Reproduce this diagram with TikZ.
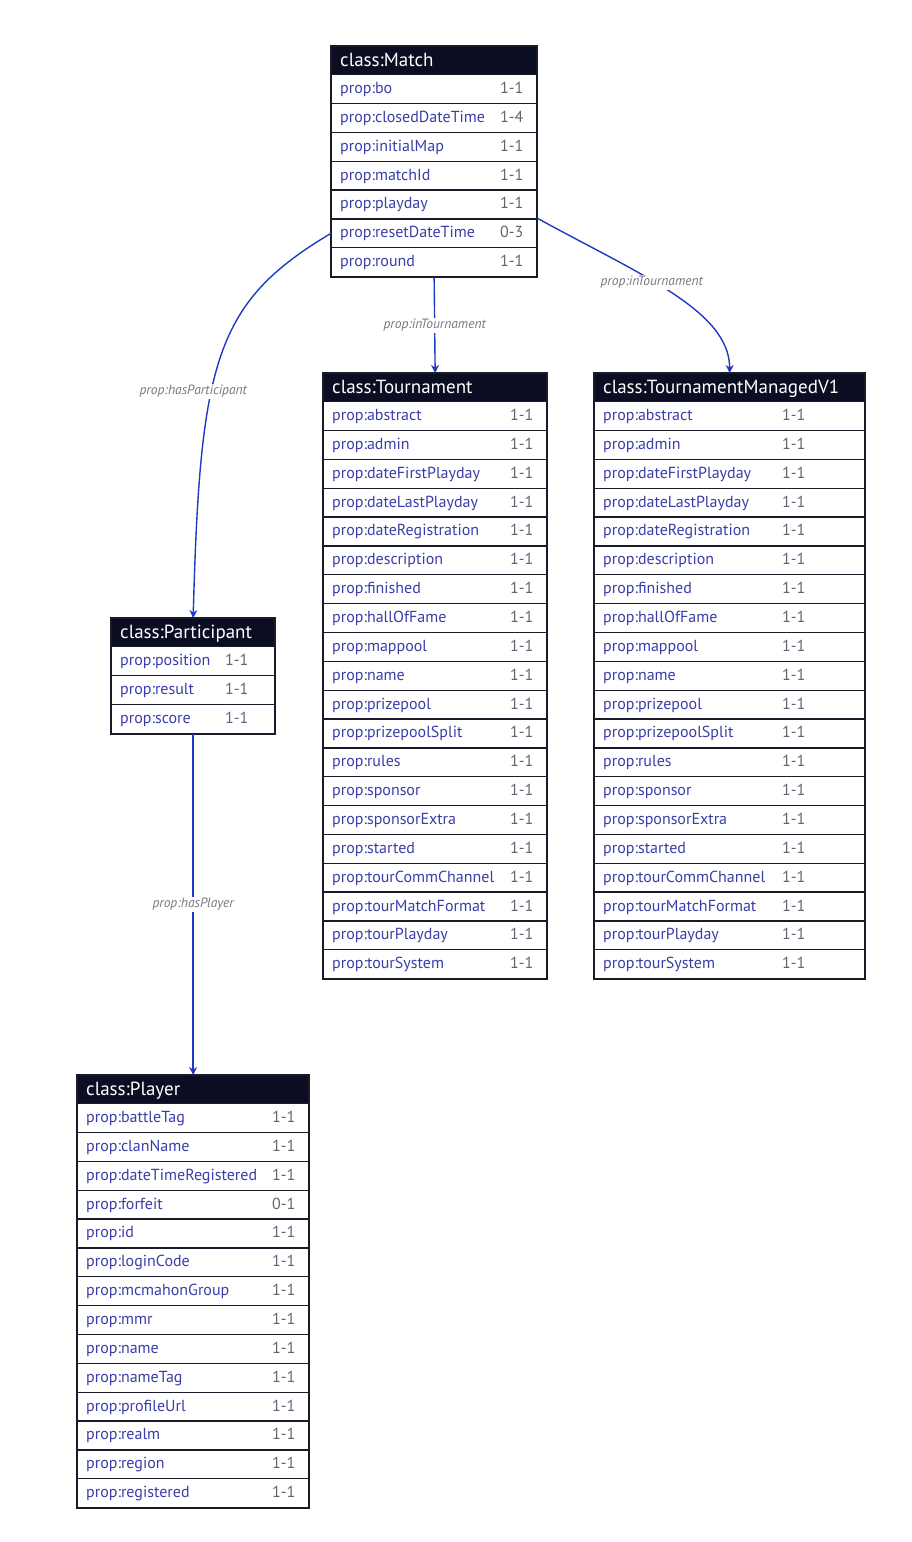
\documentclass[tikz,border=0pt]{standalone}
\usepackage{fontspec}
\setmainfont{PT Sans}
\usepackage{tikz}
\usetikzlibrary{calc,arrows.meta}

\definecolor{headfill}{RGB}{11,14,34}
\definecolor{propblue}{RGB}{58,62,168}
\definecolor{multgray}{RGB}{100,100,112}
\definecolor{edgeblue}{RGB}{28,60,190}
\definecolor{labelgray}{RGB}{120,120,132}
\definecolor{rowline}{RGB}{26,26,40}

\tikzset{
  headbox/.style={draw=rowline, fill=headfill, line width=1.3pt, minimum height=28pt, inner sep=0pt, anchor=north west},
  headtext/.style={text=white, font=\fontsize{19}{22}\selectfont, inner sep=0pt, text height=14pt, text depth=2pt, anchor=west},
  rowbox/.style={draw=rowline, fill=white, line width=1.3pt, minimum height=28.85pt, inner sep=0pt, anchor=north west},
  proptext/.style={text=propblue, font=\fontsize{16}{18}\selectfont, inner sep=0pt, text height=12pt, text depth=3pt, anchor=west},
  mult/.style={text=multgray, font=\fontsize{16}{18}\selectfont, inner sep=0pt, text height=12pt, text depth=3pt, anchor=west},
  boxframe/.style={draw=rowline, line width=1.8pt},
  rel/.style={draw=edgeblue, line width=1.4pt, -{Stealth[length=8pt,width=8pt]}},
  rellabel/.style={fill=white, text=labelgray, font=\fontsize{13.5}{15}\selectfont\itshape, inner sep=1.5pt}
}

% class box: name, x, y, width, offset of the cardinality, title, rows
\newcommand{\classbox}[7]{%
  \node[headbox, minimum width=#4] (#1) at (#2,#3) {};
  \node[headtext] (#1-title) at ($(#1.west)+(9,0)$) {class:#6};
  \foreach [count=\i] \p/\m in {#7} {
    \node[rowbox, minimum width=#4] (#1-\i) at ({#2},{#3+28+(\i-1)*28.85}) {};
    \node[proptext] (#1-\i-p) at ($(#1-\i.west)+(9,0)$) {prop:\p};
    \node[mult] (#1-\i-m) at ($(#1-\i.west)+(#5,0)$) {\m};
    \xdef\lastrow{\i}
  }
  \draw[boxframe] (#1.north west) rectangle (#1-\lastrow.south east);
}

\begin{document}
\begin{tikzpicture}[x=1pt, y=-1pt]
\useasboundingbox (0,0) rectangle (912,1542);

% classes
\classbox{match}{331}{46}{205}{169}{Match}{bo/1-1, closedDateTime/1-4, initialMap/1-1, matchId/1-1, playday/1-1, resetDateTime/0-3, round/1-1}

\classbox{tour}{323}{373}{223}{187}{Tournament}{abstract/1-1, admin/1-1, dateFirstPlayday/1-1, dateLastPlayday/1-1, dateRegistration/1-1, description/1-1, finished/1-1, hallOfFame/1-1, mappool/1-1, name/1-1, prizepool/1-1, prizepoolSplit/1-1, rules/1-1, sponsor/1-1, sponsorExtra/1-1, started/1-1, tourCommChannel/1-1, tourMatchFormat/1-1, tourPlayday/1-1, tourSystem/1-1}

\classbox{tmv}{594}{373}{270}{188}{TournamentManagedV1}{abstract/1-1, admin/1-1, dateFirstPlayday/1-1, dateLastPlayday/1-1, dateRegistration/1-1, description/1-1, finished/1-1, hallOfFame/1-1, mappool/1-1, name/1-1, prizepool/1-1, prizepoolSplit/1-1, rules/1-1, sponsor/1-1, sponsorExtra/1-1, started/1-1, tourCommChannel/1-1, tourMatchFormat/1-1, tourPlayday/1-1, tourSystem/1-1}

\classbox{part}{111}{618}{163}{114}{Participant}{position/1-1, result/1-1, score/1-1}

\classbox{player}{77}{1075}{231}{195}{Player}{battleTag/1-1, clanName/1-1, dateTimeRegistered/1-1, forfeit/0-1, id/1-1, loginCode/1-1, mcmahonGroup/1-1, mmr/1-1, name/1-1, nameTag/1-1, profileUrl/1-1, realm/1-1, region/1-1, registered/1-1}

% relations
\draw[rel] (match-7.south) -- node[rellabel] (l-tour) {prop:inTournament} (tour.north);
\draw[rel] (match-6.north east) .. controls +(104,57) and +(0,-62) .. node[rellabel, pos=0.42, xshift=-3pt] (l-tmv) {prop:inTournament} (tmv.north);
\draw[rel] (match-6.west) .. controls +(-116,69) and +(7,-257) .. node[rellabel, pos=0.6, xshift=-18pt] (l-part) {prop:hasParticipant} (part.north);
\draw[rel] (part-3.south) -- node[rellabel] (l-player) {prop:hasPlayer} (player.north);
\end{tikzpicture}
\end{document}
